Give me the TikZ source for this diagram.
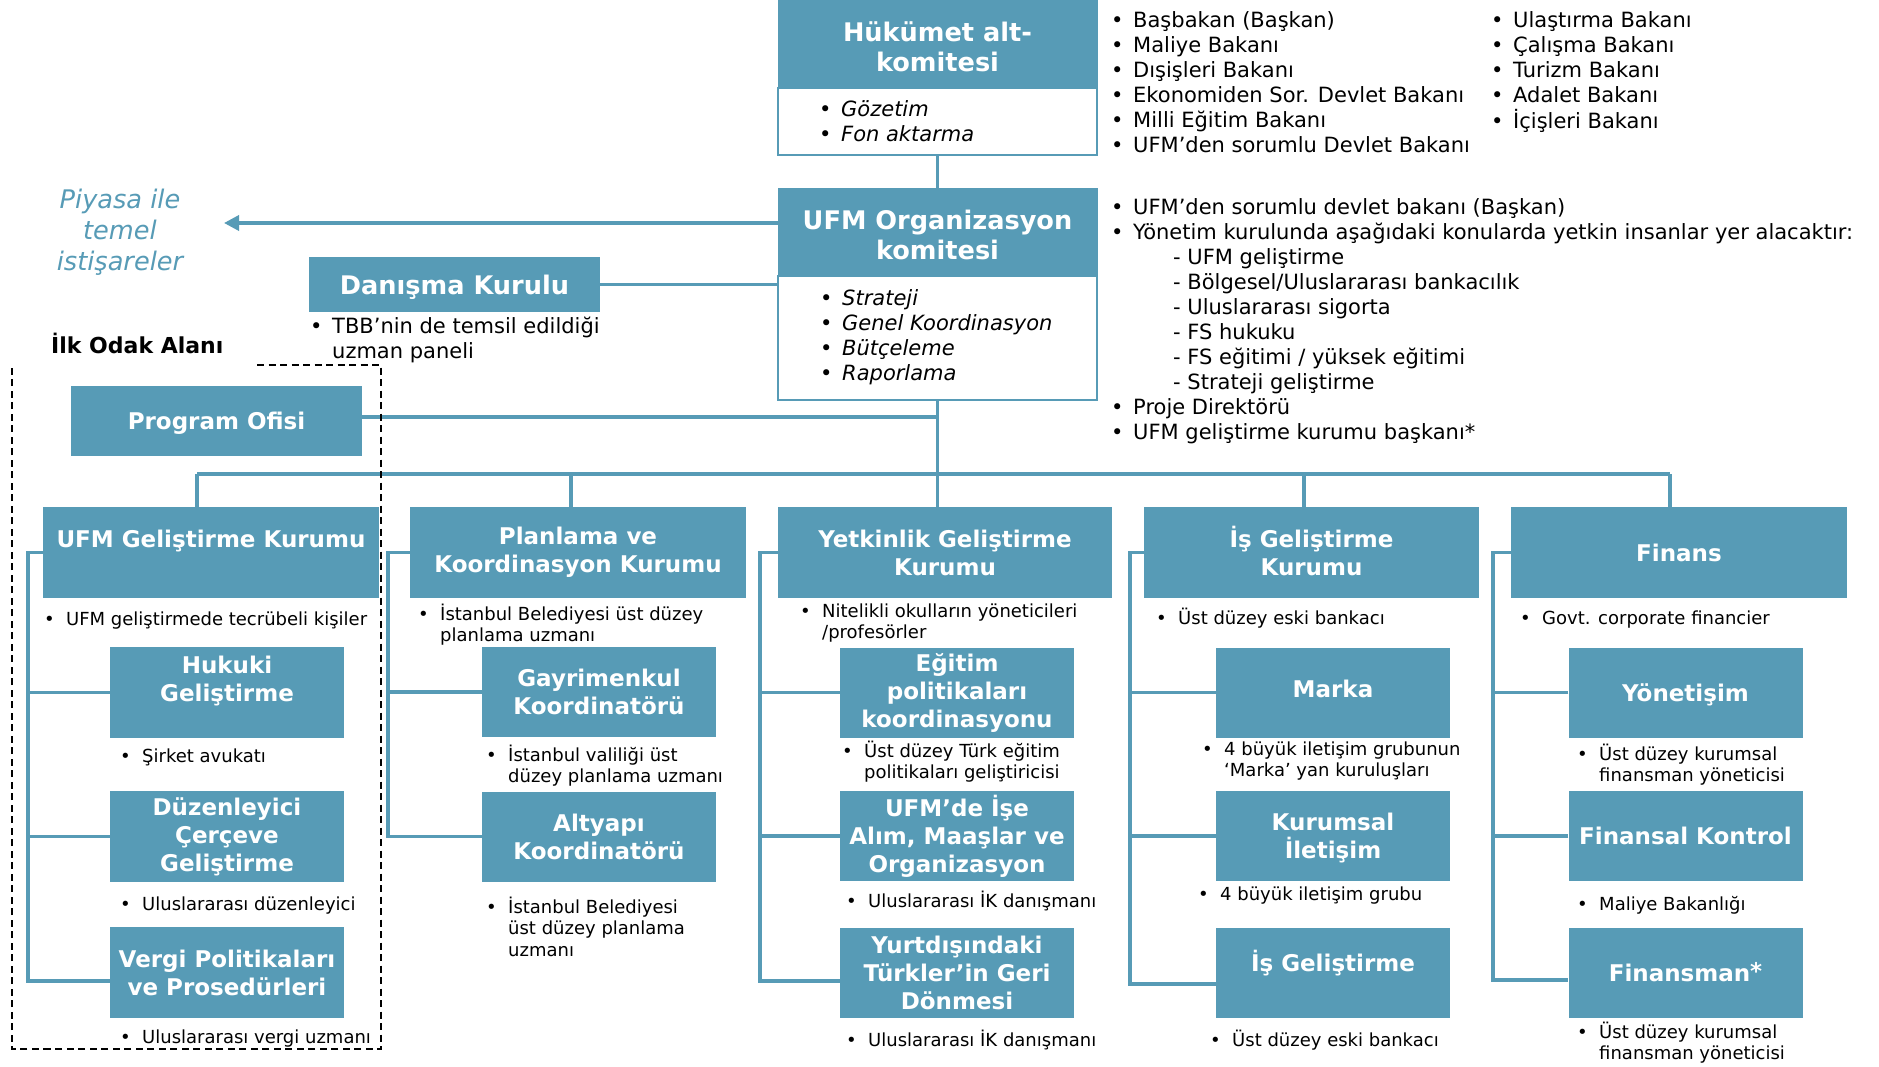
\documentclass[tikz,border=0pt]{standalone}
\usepackage{fontspec}
\setmainfont{DejaVu Sans}
\usetikzlibrary{arrows.meta}
\definecolor{tl}{RGB}{87,155,182}
\newcommand\bu{\makebox[22pt][l]{\textbullet}}
\newcommand\Idot{\raisebox{0pt}[0pt][0pt]{İ}}
\newcommand\LF{\fontsize{21}{25}\selectfont}
\newcommand\SF{\fontsize{18}{21.5}\selectfont}
\newcommand\TF{\bfseries\fontsize{23}{28}\selectfont}
\newcommand\BF{\bfseries\fontsize{25.6}{30}\selectfont}
\tikzset{
 hdr/.style={fill=tl, draw=tl, line width=1pt, text=white, font=\BF, align=center, inner sep=0pt, minimum width=319pt},
 wpart/.style={draw=tl, line width=2pt, fill=white, inner sep=0pt, minimum width=319pt},
 cbox/.style={fill=tl, text=white, font=\TF, align=center, inner sep=0pt, minimum width=336pt, minimum height=91pt},
 sbox/.style={cbox, minimum width=234pt, minimum height=90pt},
 ln/.style={draw=tl, line width=3.5pt},
 lst/.style={anchor=base west, inner sep=0pt, font=\LF},
 sml/.style={anchor=base west, inner sep=0pt, font=\SF},
}
\begin{document}
\begin{tikzpicture}[x=1pt,y=-1pt]
\useasboundingbox (0,0) rectangle (1879,1066);
\clip (0,0) rectangle (1879,1066);
\fill[white] (0,0) rectangle (1879,1066);

% ---- top committees
\node[hdr, minimum height=90pt] (hkH) at (937.5,43) {\rule{0pt}{26.5pt}Hükümet alt-\\komitesi};
\node[wpart, minimum height=67pt] (hkW) at (937.5,121.5) {};
\node[lst, font=\LF\itshape] (hkL) at (819,116) {\begin{tabular}[t]{@{}l@{}l@{}}\bu&Gözetim\\\bu&Fon aktarma\end{tabular}};

\node[hdr, minimum height=88pt] (orgH) at (937.5,232) {\rule{0pt}{26pt}UFM Organizasyon\\komitesi};
\node[wpart, minimum height=124pt] (orgW) at (937.5,338) {};
\node[lst, font=\fontsize{21}{25.3}\selectfont\itshape] (orgL) at (820,305) {\begin{tabular}[t]{@{}l@{}l@{}}\bu&Strateji\\\bu&Genel Koordinasyon\\\bu&Bütçeleme\\\bu&Raporlama\end{tabular}};

% ---- member lists
\node[lst] (lstA) at (1111,27) {\begin{tabular}[t]{@{}l@{}l@{}}\bu&Başbakan (Başkan)\\\bu&Maliye Bakanı\\\bu&Dışişleri Bakanı\\\bu&Ekonomiden Sor. Devlet Bakanı\\\bu&Milli Eğitim Bakanı\\\bu&UFM’den sorumlu Devlet Bakanı\end{tabular}};
\node[lst] (lstB) at (1491,27) {\begin{tabular}[t]{@{}l@{}l@{}}\bu&Ulaştırma Bakanı\\\bu&Çalışma Bakanı\\\bu&Turizm Bakanı\\\bu&Adalet Bakanı\\\bu&İçişleri Bakanı\end{tabular}};
\node[lst] (lstC) at (1111,214) {\begin{tabular}[t]{@{}l@{}l@{}}\bu&UFM’den sorumlu devlet bakanı (Başkan)\\\bu&Yönetim kurulunda aşağıdaki konularda yetkin insanlar yer alacaktır:\\&\hspace{40pt}- UFM geliştirme\\&\hspace{40pt}- Bölgesel/Uluslararası bankacılık\\&\hspace{40pt}- Uluslararası sigorta\\&\hspace{40pt}- FS hukuku\\&\hspace{40pt}- FS eğitimi / yüksek eğitimi\\&\hspace{40pt}- Strateji geliştirme\\\bu&Proje Direktörü\\\bu&UFM geliştirme kurumu başkanı*\end{tabular}};

% ---- left side
\node[font=\fontsize{25.6}{31}\selectfont\itshape, text=tl, align=center, inner sep=0pt] (piy) at (120,232.5) {Piyasa ile\\temel\\istişareler};
\node[cbox, font=\BF, minimum width=291pt, minimum height=55pt, text depth=0pt] (dk) at (454.5,284.5) {Danışma Kurulu};
\node[lst] (dkL) at (310,333.5) {\begin{tabular}[t]{@{}l@{}l@{}}\bu&TBB’nin de temsil edildiği\\&uzman paneli\end{tabular}};
\node[anchor=base west, inner sep=0pt, font=\bfseries\fontsize{22}{26}\selectfont] (ilk) at (51,353) {İlk Odak Alanı};
\node[cbox, minimum width=291pt, minimum height=70pt, text depth=0pt] (po) at (216.5,421) {Program Ofisi};

% ---- column heads
\node[cbox] (c1) at (211,552.5) {UFM Geliştirme Kurumu\\\mbox{}};
\node[cbox] (c2) at (578,552.5) {Planlama ve\\Koordinasyon Kurumu};
\node[cbox, minimum width=334pt] (c3) at (945,552.5) {Yetkinlik Geliştirme\\Kurumu};
\node[cbox, minimum width=335pt] (c4) at (1311.5,552.5) {\Idot ş Geliştirme\\Kurumu};
\node[cbox] (c5) at (1679,552.5) {Finans};

\node[sml] (c1L) at (44,625) {\begin{tabular}[t]{@{}l@{}l@{}}\bu&UFM geliştirmede tecrübeli kişiler\end{tabular}};
\node[sml] (c2L) at (418,620) {\begin{tabular}[t]{@{}l@{}l@{}}\bu&İstanbul Belediyesi üst düzey\\&planlama uzmanı\end{tabular}};
\node[sml] (c3L) at (800,617) {\begin{tabular}[t]{@{}l@{}l@{}}\bu&Nitelikli okulların yöneticileri\\&/profesörler\end{tabular}};
\node[sml] (c4L) at (1156,624) {\begin{tabular}[t]{@{}l@{}l@{}}\bu&Üst düzey eski bankacı\end{tabular}};
\node[sml] (c5L) at (1520,624) {\begin{tabular}[t]{@{}l@{}l@{}}\bu&Govt. corporate financier\end{tabular}};

% ---- sub boxes col 1
\node[sbox, minimum height=91pt] (s11) at (227,692.5) {Hukuki\\Geliştirme\\\mbox{}};
\node[sbox, minimum height=91pt] (s12) at (227,836.5) {Düzenleyici\\Çerçeve\\Geliştirme};
\node[sbox, minimum height=91pt] (s13) at (227,972.5) {Vergi Politikaları\\ve Prosedürleri};
\node[sml] (s11L) at (120,762) {\begin{tabular}[t]{@{}l@{}l@{}}\bu&Şirket avukatı\end{tabular}};
\node[sml] (s12L) at (120,910) {\begin{tabular}[t]{@{}l@{}l@{}}\bu&Uluslararası düzenleyici\end{tabular}};
\node[sml] (s13L) at (120,1043) {\begin{tabular}[t]{@{}l@{}l@{}}\bu&Uluslararası vergi uzmanı\end{tabular}};

% ---- col 2
\node[sbox] (s21) at (599,692) {Gayrimenkul\\Koordinatörü};
\node[sbox] (s22) at (599,836.5) {Altyapı\\Koordinatörü};
\node[sml] (s21L) at (486,761) {\begin{tabular}[t]{@{}l@{}l@{}}\bu&İstanbul valiliği üst\\&düzey planlama uzmanı\end{tabular}};
\node[sml] (s22L) at (486,913) {\begin{tabular}[t]{@{}l@{}l@{}}\bu&İstanbul Belediyesi\\&üst düzey planlama\\&uzmanı\end{tabular}};

% ---- col 3
\node[sbox] (s31) at (957,692.5) {Eğitim\\politikaları\\koordinasyonu};
\node[sbox] (s32) at (957,836) {UFM’de İşe\\Alım, Maaşlar ve\\Organizasyon};
\node[sbox] (s33) at (957,972.5) {Yurtdışındaki\\Türkler’in Geri\\Dönmesi};
\node[sml] (s31L) at (842,757) {\begin{tabular}[t]{@{}l@{}l@{}}\bu&Üst düzey Türk eğitim\\&politikaları geliştiricisi\end{tabular}};
\node[sml] (s32L) at (846,907) {\begin{tabular}[t]{@{}l@{}l@{}}\bu&Uluslararası İK danışmanı\end{tabular}};
\node[sml] (s33L) at (846,1046) {\begin{tabular}[t]{@{}l@{}l@{}}\bu&Uluslararası İK danışmanı\end{tabular}};

% ---- col 4
\node[sbox] (s41) at (1333,692.5) {Marka\\[-20pt]\mbox{}};
\node[sbox, text depth=0pt] (s42) at (1333,836) {Kurumsal\\İletişim};
\node[sbox] (s43) at (1333,972.5) {\Idot ş Geliştirme\\[-8pt]\mbox{}};
\node[sml] (s41L) at (1202,755) {\begin{tabular}[t]{@{}l@{}l@{}}\bu&4 büyük iletişim grubunun\\&‘Marka’ yan kuruluşları\end{tabular}};
\node[sml] (s42L) at (1198,900) {\begin{tabular}[t]{@{}l@{}l@{}}\bu&4 büyük iletişim grubu\end{tabular}};
\node[sml] (s43L) at (1210,1046) {\begin{tabular}[t]{@{}l@{}l@{}}\bu&Üst düzey eski bankacı\end{tabular}};

% ---- col 5
\node[sbox, text depth=0pt] (s51) at (1685.5,692.5) {Yönetişim};
\node[sbox] (s52) at (1685.5,836) {Finansal Kontrol};
\node[sbox] (s53) at (1685.5,972.5) {Finansman\raisebox{2pt}{*}};
\node[sml] (s51L) at (1577,760) {\begin{tabular}[t]{@{}l@{}l@{}}\bu&Üst düzey kurumsal\\&finansman yöneticisi\end{tabular}};
\node[sml] (s52L) at (1577,910) {\begin{tabular}[t]{@{}l@{}l@{}}\bu&Maliye Bakanlığı\end{tabular}};
\node[sml] (s53L) at (1577,1038) {\begin{tabular}[t]{@{}l@{}l@{}}\bu&Üst düzey kurumsal\\&finansman yöneticisi\end{tabular}};

% ---- connectors
\coordinate (bm) at (937.5,474);
\coordinate (bl) at (197,474);
\coordinate (b2) at (571,474);
\coordinate (b4) at (1304,474);
\coordinate (br) at (1670,474);
\coordinate (ar) at (224,223);
\path ([yshift=4pt]po.east) coordinate (poe);
\draw[ln] (hkW.south) -- (orgH.north);
\draw[ln] (orgW.south) -- (bm);
\draw[ln] (bl) -- (br);
\draw[ln] (bl) -- (bl |- c1.north);
\draw[ln] (b2) -- (b2 |- c2.north);
\draw[ln] (bm) -- (bm |- c3.north);
\draw[ln] (b4) -- (b4 |- c4.north);
\draw[ln] (br) -- (br |- c5.north);
\draw[ln] (dk.east) -- (dk.east -| orgH.west);
\draw[ln] (poe) -- (poe -| bm);
\draw[ln, -{Triangle[length=15pt,width=15pt]}] (ar -| orgH.west) -- (ar);

\coordinate (k1) at (28,981);
\draw[ln] (c1.west) -| (k1) -- (k1 -| s13.west);
\draw[ln] (s11.west) -- (s11.west -| k1);
\draw[ln] (s12.west) -- (s12.west -| k1);
\coordinate (k2) at (388,836.5);
\draw[ln] (c2.west) -| (k2) -- (k2 -| s22.west);
\draw[ln] (s21.west) -- (s21.west -| k2);
\coordinate (k3) at (760,981);
\draw[ln] (c3.west) -| (k3) -- (k3 -| s33.west);
\draw[ln] (s31.west) -- (s31.west -| k3);
\draw[ln] (s32.west) -- (s32.west -| k3);
\coordinate (k4) at (1130,984);
\draw[ln] (c4.west) -| (k4) -- (k4 -| s43.west);
\draw[ln] (s41.west) -- (s41.west -| k4);
\draw[ln] (s42.west) -- (s42.west -| k4);
\coordinate (k5) at (1493,980);
\draw[ln] (c5.west) -| (k5) -- (k5 -| s53.west);
\draw[ln] (s51.west) -- (s51.west -| k5);
\draw[ln] (s52.west) -- (s52.west -| k5);

% ---- focus area
\draw[line width=2.3pt, dash pattern=on 7pt off 4.5pt] (257,365) -- (381,365) -- (381,1049) -- (12,1049) -- (12,365);
\end{tikzpicture}
\end{document}
